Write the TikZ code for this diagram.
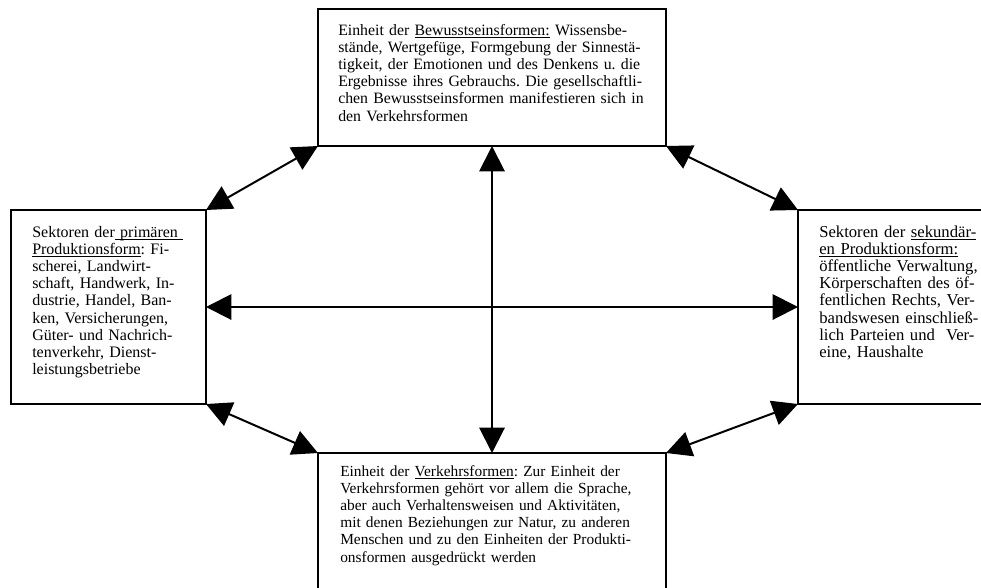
\documentclass[tikz,border=0pt]{standalone}
\usepackage{fontspec}
\setmainfont{Liberation Serif}
\usetikzlibrary{arrows.meta}

\newcommand{\undl}[1]{\underline{\smash{#1}}}

\begin{document}
\frenchspacing
\begin{tikzpicture}[x=0.75pt, y=-0.75pt]
%\draw[blue, very thick] (0,0) rectangle (981,587);

\tikzset{
box/.style={draw, line width=1.5pt, inner sep=0pt, outer sep=0pt, anchor=north west},
txt/.style={inner sep=0pt, anchor=base west, align=left},
link/.style={line width=1.5pt, {Triangle[length=19pt, width=19pt]}-{Triangle[length=19pt, width=19pt]}}
}

\useasboundingbox (0,0) rectangle (981,587);
\clip (0,0) rectangle (981,587);

%boxes
\node[box, minimum width=261pt, minimum height=102.75pt] (bewusst) at (318,9) {};
\node[box, minimum width=146.25pt, minimum height=145.5pt] (primaer) at (11,210) {};
\node[box, minimum width=151.5pt, minimum height=145.5pt] (sekundaer) at (798,210) {};
\node[box, minimum width=261pt, minimum height=125.25pt] (verkehr) at (318,453) {};

%texts
\node[txt, text width=250pt, font=\fontsize{11.85pt}{12.9pt}\selectfont] (bewusstxt) at (338,35) {Einheit der \undl{Bewusstseinsformen:} Wissensbe-\\
st\"ande, Wertgef\"uge, Formgebung der Sinnest\"a-\\
tigkeit, der Emotionen und des Denkens u. die\\
Ergebnisse ihres Gebrauchs. Die gesellschaftli-\\
chen Bewusstseinsformen manifestieren sich in\\
den Verkehrsformen};

\node[txt, text width=130pt, font=\fontsize{12pt}{12.9pt}\selectfont] (primaertxt) at (32,237) {Sektoren der\undl{ prim\"aren }\\
\undl{Produktionsform}: Fi-\\
scherei, Landwirt-\\
schaft, Handwerk, In-\\
dustrie, Handel, Ban-\\
ken, Versicherungen,\\
G\"uter- und Nachrich-\\
tenverkehr, Dienst-\\
leistungsbetriebe};

\node[txt, text width=135pt, font=\fontsize{12.5pt}{12.9pt}\selectfont] (sekundaertxt) at (819,237) {Sektoren der \undl{sekund\"ar-}\\
\undl{en Produktionsform:}\\
\"offentliche Verwaltung,\\
K\"orperschaften des \"of-\\
fentlichen Rechts, Ver-\\
bandswesen einschlie\ss-\\
lich Parteien und\ \ Ver-\\
eine, Haushalte};

\node[txt, text width=250pt, font=\fontsize{11.55pt}{12.9pt}\selectfont] (verkehrtxt) at (340,476) {Einheit der \undl{Verkehrsformen}: Zur Einheit der\\
Verkehrsformen geh\"ort vor allem die Sprache,\\
aber auch Verhaltensweisen und Aktivit\"aten,\\
mit denen Beziehungen zur Natur, zu anderen\\
Menschen und zu den Einheiten der Produkti-\\
onsformen ausgedr\"uckt werden};

%arrows
\draw[link] (primaer.north east) -- (bewusst.south west);
\draw[link] (bewusst.south east) -- (sekundaer.north west);
\draw[link] (primaer.south east) -- (verkehr.north west);
\draw[link] (verkehr.north east) -- (sekundaer.south west);
\draw[link] (bewusst.south) -- (verkehr.north);
\draw[link] (primaer.east) -- (sekundaer.west);

\end{tikzpicture}
\end{document}
